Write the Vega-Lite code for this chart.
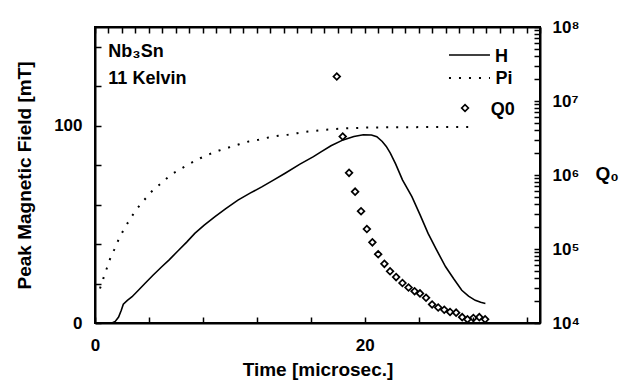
{
  "$schema": "https://vega.github.io/schema/vega-lite/v6.json",
  "autosize": {"type": "none"},
  "width": 445,
  "height": 296,
  "padding": {"left": 95, "top": 27, "right": 86, "bottom": 59},
  "view": {"stroke": "black", "strokeWidth": 2},
  "data": {"values": [
    {"s": "H", "t": 1.25, "mT": 0}, {"s": "H", "t": 1.5, "mT": 0.8}, {"s": "H", "t": 1.75, "mT": 3}, {"s": "H", "t": 1.95, "mT": 6.5},
    {"s": "H", "t": 2.1, "mT": 9.5}, {"s": "H", "t": 2.4, "mT": 11.5}, {"s": "H", "t": 2.75, "mT": 13.3}, {"s": "H", "t": 3.2, "mT": 16.5},
    {"s": "H", "t": 3.7, "mT": 20}, {"s": "H", "t": 4.3, "mT": 24.2}, {"s": "H", "t": 4.95, "mT": 28.5}, {"s": "H", "t": 5.5, "mT": 32},
    {"s": "H", "t": 6.2, "mT": 36.9}, {"s": "H", "t": 6.8, "mT": 41}, {"s": "H", "t": 7.4, "mT": 45.4}, {"s": "H", "t": 8.1, "mT": 49.6},
    {"s": "H", "t": 8.9, "mT": 53.9}, {"s": "H", "t": 9.7, "mT": 58}, {"s": "H", "t": 10.6, "mT": 62.3}, {"s": "H", "t": 11.5, "mT": 65.8},
    {"s": "H", "t": 12.4, "mT": 69.1}, {"s": "H", "t": 13.2, "mT": 72.3}, {"s": "H", "t": 14.1, "mT": 75.9}, {"s": "H", "t": 15.2, "mT": 80.5},
    {"s": "H", "t": 16.2, "mT": 84.3}, {"s": "H", "t": 16.7, "mT": 86.5}, {"s": "H", "t": 17.5, "mT": 89.8}, {"s": "H", "t": 18.4, "mT": 92.8},
    {"s": "H", "t": 19.2, "mT": 94.5}, {"s": "H", "t": 19.9, "mT": 95.4}, {"s": "H", "t": 20.5, "mT": 95.3}, {"s": "H", "t": 20.9, "mT": 94.4},
    {"s": "H", "t": 21.3, "mT": 92}, {"s": "H", "t": 21.6, "mT": 89.5}, {"s": "H", "t": 21.9, "mT": 86.1}, {"s": "H", "t": 22.3, "mT": 80.5},
    {"s": "H", "t": 22.8, "mT": 72.5}, {"s": "H", "t": 23.5, "mT": 64}, {"s": "H", "t": 24.1, "mT": 54.9}, {"s": "H", "t": 24.7, "mT": 45.4},
    {"s": "H", "t": 25.3, "mT": 37.4}, {"s": "H", "t": 26.0, "mT": 28.5}, {"s": "H", "t": 26.6, "mT": 22.4}, {"s": "H", "t": 27.2, "mT": 16.6},
    {"s": "H", "t": 27.7, "mT": 13.6}, {"s": "H", "t": 28.2, "mT": 11.5}, {"s": "H", "t": 28.6, "mT": 10.5}, {"s": "H", "t": 28.95, "mT": 9.9},
    {"s": "Pi", "t": 0.37, "mT": 17.5}, {"s": "Pi", "t": 0.62, "mT": 22.6}, {"s": "Pi", "t": 0.87, "mT": 27.6}, {"s": "Pi", "t": 1.11, "mT": 32.4},
    {"s": "Pi", "t": 1.41, "mT": 36.9}, {"s": "Pi", "t": 1.73, "mT": 42}, {"s": "Pi", "t": 2.1, "mT": 46.9}, {"s": "Pi", "t": 2.52, "mT": 51.8},
    {"s": "Pi", "t": 2.97, "mT": 56.6}, {"s": "Pi", "t": 3.54, "mT": 61.5}, {"s": "Pi", "t": 4.2, "mT": 66.6}, {"s": "Pi", "t": 4.95, "mT": 71.1},
    {"s": "Pi", "t": 5.6, "mT": 75}, {"s": "Pi", "t": 6.35, "mT": 78.1}, {"s": "Pi", "t": 7.1, "mT": 81}, {"s": "Pi", "t": 7.8, "mT": 83.5},
    {"s": "Pi", "t": 8.5, "mT": 85.6}, {"s": "Pi", "t": 9.2, "mT": 87.4}, {"s": "Pi", "t": 9.9, "mT": 88.9}, {"s": "Pi", "t": 10.7, "mT": 90.6},
    {"s": "Pi", "t": 11.4, "mT": 92}, {"s": "Pi", "t": 12.1, "mT": 92.8}, {"s": "Pi", "t": 12.86, "mT": 94}, {"s": "Pi", "t": 13.6, "mT": 94.9},
    {"s": "Pi", "t": 14.3, "mT": 95.4}, {"s": "Pi", "t": 15.0, "mT": 96.2}, {"s": "Pi", "t": 15.8, "mT": 97.0}, {"s": "Pi", "t": 17.0, "mT": 97.9},
    {"s": "Pi", "t": 18.5, "mT": 98.6}, {"s": "Pi", "t": 20.0, "mT": 99.0}, {"s": "Pi", "t": 22.0, "mT": 99.2}, {"s": "Pi", "t": 25.0, "mT": 99.3},
    {"s": "Pi", "t": 28.2, "mT": 99.3},
    {"s": "legH", "t": 26.25, "mT": 135.8}, {"s": "legH", "t": 29.29, "mT": 135.8},
    {"s": "legPi", "t": 26.25, "mT": 124.2}, {"s": "legPi", "t": 29.29, "mT": 124.2},
    {"s": "Q0", "t": 17.93, "Q": 21400000}, {"s": "Q0", "t": 18.37, "Q": 3310000}, {"s": "Q0", "t": 18.84, "Q": 1070000},
    {"s": "Q0", "t": 19.29, "Q": 596000}, {"s": "Q0", "t": 19.73, "Q": 324000}, {"s": "Q0", "t": 20.16, "Q": 186000},
    {"s": "Q0", "t": 20.57, "Q": 123000}, {"s": "Q0", "t": 21.0, "Q": 85000}, {"s": "Q0", "t": 21.46, "Q": 63000},
    {"s": "Q0", "t": 21.88, "Q": 50000}, {"s": "Q0", "t": 22.33, "Q": 41700}, {"s": "Q0", "t": 22.8, "Q": 34700},
    {"s": "Q0", "t": 23.25, "Q": 30200}, {"s": "Q0", "t": 23.7, "Q": 26900}, {"s": "Q0", "t": 24.1, "Q": 25100},
    {"s": "Q0", "t": 24.55, "Q": 21900}, {"s": "Q0", "t": 25.0, "Q": 17800}, {"s": "Q0", "t": 25.45, "Q": 16200},
    {"s": "Q0", "t": 25.9, "Q": 15100}, {"s": "Q0", "t": 26.33, "Q": 14100}, {"s": "Q0", "t": 26.78, "Q": 13800},
    {"s": "Q0", "t": 27.23, "Q": 12000}, {"s": "Q0", "t": 27.62, "Q": 11200}, {"s": "Q0", "t": 28.06, "Q": 11700},
    {"s": "Q0", "t": 28.5, "Q": 12000}, {"s": "Q0", "t": 28.93, "Q": 11200},
    {"s": "legQ", "t": 27.44, "Q": 8040000},
    {"s": "note", "t": 0.99, "mT": 137.3, "label": "Nb₃Sn"},
    {"s": "note", "t": 0.99, "mT": 123.6, "label": "11 Kelvin"},
    {"s": "note", "t": 29.66, "mT": 135.0, "label": "H"},
    {"s": "note", "t": 29.7, "mT": 123.5, "label": "Pi"},
    {"s": "note", "t": 29.34, "mT": 108.1, "label": "Q0"}
  ]},
  "resolve": {
    "scale": {"y": "independent"},
    "axis": {"x": "independent", "y": "independent"}
  },
  "layer": [
    {
      "layer": [
        {
          "transform": [{"filter": "datum.s === 'H' || datum.s === 'legH'"}],
          "mark": {"type": "line", "color": "black", "strokeWidth": 1.6},
          "encoding": {
            "x": {
              "field": "t", "type": "quantitative", "title": "Time [microsec.]",
              "scale": {"domain": [0, 33], "nice": false},
              "axis": {
                "orient": "bottom",
                "values": [0, 1, 2, 3, 4, 5, 6, 7, 8, 9, 10, 11, 12, 13, 14, 15, 16, 17, 18, 19, 20, 21, 22, 23, 24, 25, 26, 27, 28, 29, 30, 31, 32, 33],
                "labelExpr": "datum.value % 5 === 0 && datum.value <= 30 ? datum.label : ''",
                "labelOverlap": false, "labelFlush": false,
                "domainColor": "black", "domainWidth": 2,
                "tickColor": "black", "tickWidth": 1.5, "grid": false,
                "tickSize": -6, "labelPadding": 20,
                "labelFont": "Liberation Sans", "labelFontWeight": "bold", "labelFontSize": 17, "labelColor": "black",
                "titleY": 52, "titleBaseline": "alphabetic",
                "titleFont": "Liberation Sans", "titleFontWeight": "bold", "titleFontSize": 19, "titleColor": "black"
              }
            },
            "y": {
              "field": "mT", "type": "quantitative", "title": "Peak Magnetic Field [mT]",
              "scale": {"domain": [0, 150], "nice": false},
              "axis": {
                "orient": "left",
                "values": [0, 5, 10, 15, 20, 25, 30, 35, 40, 45, 50, 55, 60, 65, 70, 75, 80, 85, 90, 95, 100, 105, 110, 115, 120, 125, 130, 135, 140, 145, 150],
                "labelExpr": "datum.value % 50 === 0 ? datum.label : ''",
                "labelOverlap": false, "labelFlush": false,
                "domainColor": "black", "domainWidth": 2,
                "tickColor": "black", "tickWidth": 1.5, "grid": false,
                "tickSize": -6, "labelPadding": 19,
                "labelFont": "Liberation Sans", "labelFontWeight": "bold", "labelFontSize": 17, "labelColor": "black",
                "titleX": -65, "titleY": 148, "titleBaseline": "alphabetic", "titleAngle": 270,
                "titleFont": "Liberation Sans", "titleFontWeight": "bold", "titleFontSize": 19, "titleColor": "black"
              }
            },
            "detail": {"field": "s"}
          }
        },
        {
          "transform": [{"filter": "datum.s === 'Pi' || datum.s === 'legPi'"}],
          "mark": {"type": "line", "color": "black", "strokeWidth": 2, "strokeDash": [2, 8]},
          "encoding": {
            "x": {"field": "t", "type": "quantitative", "title": "Time [microsec.]"},
            "y": {"field": "mT", "type": "quantitative", "title": "Peak Magnetic Field [mT]"},
            "detail": {"field": "s"}
          }
        },
        {
          "transform": [{"filter": "datum.s === 'note'"}],
          "mark": {"type": "text", "align": "left", "baseline": "middle", "font": "Liberation Sans", "fontWeight": "bold", "fontSize": 18, "color": "black"},
          "encoding": {
            "x": {"field": "t", "type": "quantitative", "title": "Time [microsec.]"},
            "y": {"field": "mT", "type": "quantitative", "title": "Peak Magnetic Field [mT]"},
            "text": {"field": "label"}
          }
        }
      ]
    },
    {
      "transform": [{"filter": "datum.s === 'Q0' || datum.s === 'legQ'"}],
      "mark": {"type": "point", "shape": "diamond", "filled": false, "color": "black", "opacity": 1, "strokeWidth": 1.7, "size": 45},
      "encoding": {
        "x": {
          "field": "t", "type": "quantitative",
          "axis": {
            "orient": "top",
            "values": [0, 1, 2, 3, 4, 5, 6, 7, 8, 9, 10, 11, 12, 13, 14, 15, 16, 17, 18, 19, 20, 21, 22, 23, 24, 25, 26, 27, 28, 29, 30, 31, 32, 33],
            "labels": false, "title": null,
            "domainColor": "black", "domainWidth": 2,
            "tickColor": "black", "tickWidth": 1.5, "grid": false, "tickSize": -6
          }
        },
        "y": {
          "field": "Q", "type": "quantitative", "title": "Q₀",
          "scale": {"type": "log", "domain": [10000, 100000000], "nice": false},
          "axis": {
            "orient": "right",
            "values": [10000, 20000, 30000, 40000, 50000, 60000, 70000, 80000, 90000,
                       100000, 200000, 300000, 400000, 500000, 600000, 700000, 800000, 900000,
                       1000000, 2000000, 3000000, 4000000, 5000000, 6000000, 7000000, 8000000, 9000000,
                       10000000, 20000000, 30000000, 40000000, 50000000, 60000000, 70000000, 80000000, 90000000,
                       100000000],
            "labelExpr": "datum.value == 100000000 ? '10⁸' : datum.value == 10000000 ? '10⁷' : datum.value == 1000000 ? '10⁶' : datum.value == 100000 ? '10⁵' : datum.value == 10000 ? '10⁴' : ''",
            "labelOverlap": false, "labelFlush": false,
            "domainColor": "black", "domainWidth": 2,
            "tickColor": "black", "tickWidth": 1.5, "grid": false,
            "tickSize": -6, "labelPadding": 18,
            "labelFont": "Liberation Sans", "labelFontWeight": "bold", "labelFontSize": 17, "labelColor": "black",
            "titleAngle": 0, "titleX": 55, "titleY": 152, "titleAlign": "left", "titleBaseline": "alphabetic",
            "titleFont": "Liberation Sans", "titleFontWeight": "bold", "titleFontSize": 19, "titleColor": "black"
          }
        }
      }
    }
  ]
}
